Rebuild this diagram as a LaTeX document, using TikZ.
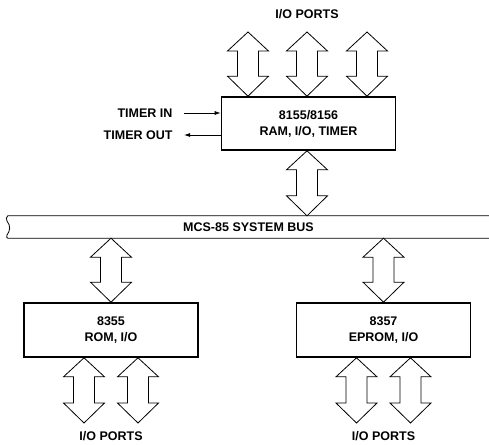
\documentclass[tikz,border=0pt]{standalone}
\usepackage{fontspec}
\setmainfont{Liberation Sans}
\usetikzlibrary{arrows.meta,positioning,calc}

\begin{document}
\begin{tikzpicture}[
  x=1pt, y=-1pt,
  font=\fontsize{12.5}{16}\selectfont\bfseries,
  chip/.style={draw, line width=1.6pt, align=center, minimum width=174pt, minimum height=54pt},
  port/.style={line width=0.8pt, line join=miter, to path={
    let \p1=(\tikztostart), \p2=(\tikztotarget) in
    (\x1,\y1) -- (\x1-20.5pt,\y1-19pt) -- (\x1-10.5pt,\y1-19pt)
    -- (\x1-10.5pt,\y2+20pt) -- (\x1-20.5pt,\y2+20pt) -- (\x2,\y2)
    -- (\x1+20.5pt,\y2+20pt) -- (\x1+10.5pt,\y2+20pt)
    -- (\x1+10.5pt,\y1-19pt) -- (\x1+20.5pt,\y1-19pt) -- cycle}},
  sig/.style={-{Latex[length=6pt,width=4pt]}, line width=0.8pt}
]
  \useasboundingbox (0,0) rectangle (489,444);

  % chips and bus
  \node[chip, minimum height=53pt] (ram) at (308.5,123.5) {8155/8156\\RAM, I/O, TIMER};
  \node[chip] (rom) at (111,330) {8355\\ROM, I/O};
  \node[chip] (eprom) at (383.5,330) {8357\\EPROM, I/O};
  \node[minimum width=481pt, minimum height=22pt, inner sep=0pt] (bus) at (248.5,227) {MCS-85 SYSTEM BUS};

  \draw[line width=0.8pt] (bus.north east) -- (bus.north west)
    .. controls (6,217) and (6,219) .. (7,221)
    .. controls (11,226) and (10,231) .. (7,235)
    .. controls (6,237) and (7,238) .. (bus.south west) -- (bus.south east);

  % labels
  \node (ptop) at (307,14) {I/O PORTS};
  \node (pl) at (rom.south |- 0,436) {I/O PORTS};
  \node (pr) at (eprom.south |- 0,436) {I/O PORTS};
  \node[anchor=east] (tin) at (176,113) {TIMER IN};
  \node[anchor=east] (tout) at (176,135) {TIMER OUT};

  % port ends
  \coordinate (t1) at (248,32);
  \coordinate (t2) at (307,32);
  \coordinate (t3) at (367,32);
  \coordinate (l1) at ([xshift=-27pt]rom.south |- 0,423);
  \coordinate (l2) at ([xshift=27pt]rom.south |- 0,423);
  \coordinate (r1) at ([xshift=-27pt]eprom.south |- 0,423);
  \coordinate (r2) at ([xshift=27pt]eprom.south |- 0,423);

  \draw[port] (t1) to (t1 |- ram.north);
  \draw[port] (t2) to (t2 |- ram.north);
  \draw[port] (t3) to (t3 |- ram.north);
  \draw[port] (ram.south -| t2) to (t2 |- bus.north);
  \draw[port] (bus.south -| rom.north) to (rom.north);
  \draw[port] (bus.south -| eprom.north) to (eprom.north);
  \draw[port] (l1 |- rom.south) to (l1);
  \draw[port] (l2 |- rom.south) to (l2);
  \draw[port] (r1 |- eprom.south) to (r1);
  \draw[port] (r2 |- eprom.south) to (r2);

  \draw[sig] ([xshift=8pt]tin.east) -- (tin.east -| ram.west);
  \draw[sig] (tout.east -| ram.west) -- ([xshift=8pt]tout.east);
\end{tikzpicture}
\end{document}
